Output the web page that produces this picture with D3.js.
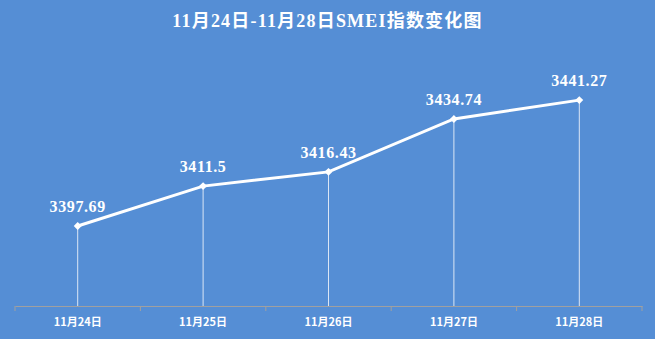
<!DOCTYPE html>
<html>
<head>
<meta charset="utf-8">
<script src="https://cdn.jsdelivr.net/npm/d3@7"></script>
<style>
  body { margin: 0; background: #558ed5; }
  svg { display: block; }
</style>
</head>
<body>
<script>
const width = 655;
const height = 339;

const title = "11月24日-11月28日SMEI指数变化图";
const dates = ["11月24日", "11月25日", "11月26日", "11月27日", "11月28日"];
const values = [3397.69, 3411.5, 3416.43, 3434.74, 3441.27];
const labels = ["3397.69", "3411.5", "3416.43", "3434.74", "3441.27"];

const margin = { top: 46, left: 15, bottom: 33, right: 13 };

const svg = d3.select("body").append("svg")
  .attr("width", width)
  .attr("height", height);

svg.append("rect")
  .attr("width", width)
  .attr("height", height)
  .attr("fill", "#558ed5");

svg.append("text")
  .attr("x", width / 2)
  .attr("y", 27)
  .attr("text-anchor", "middle")
  .style("font-family", "'Liberation Serif', 'Noto Sans CJK SC', serif")
  .style("font-size", "18px")
  .style("font-weight", "bold")
  .style("letter-spacing", "1.2px")
  .attr("fill", "#fff")
  .text(title);

const x = d3.scaleBand()
  .domain(dates)
  .range([margin.left, width - margin.right]);

const y = d3.scaleLinear()
  .domain([3370, 3460])
  .range([height - margin.bottom, margin.top]);

const base = height - margin.bottom;

// x axis
const xAxis = svg.append("g")
  .attr("transform", `translate(0, ${base})`)
  .call(d3.axisBottom(x).tickSize(0).tickPadding(12));
xAxis.select(".domain").attr("stroke", "#a0a0a0").attr("stroke-width", 1.2);
xAxis.selectAll("text")
  .attr("fill", "#fff")
  .style("font-family", "'Noto Sans CJK SC', sans-serif")
  .style("font-size", "11px")
  .style("font-weight", "bold");

// tick marks at band edges
const edges = dates.map((d) => x(d)).concat([x(dates[dates.length - 1]) + x.bandwidth()]);
svg.append("g").selectAll("line")
  .data(edges)
  .enter()
  .append("line")
  .attr("x1", (d) => d)
  .attr("x2", (d) => d)
  .attr("y1", base)
  .attr("y2", base + 5)
  .attr("stroke", "#a0a0a0");

const cx = (d, i) => x(dates[i]) + x.bandwidth() / 2;

// drop lines
svg.append("g").selectAll("line")
  .data(values)
  .enter()
  .append("line")
  .attr("x1", cx)
  .attr("x2", cx)
  .attr("y1", (d) => y(d))
  .attr("y2", base)
  .attr("stroke", "#dbe6f5")
  .attr("stroke-width", 1);

const line = d3.line()
  .x(cx)
  .y((d) => y(d));

svg.append("path")
  .datum(values)
  .attr("d", line)
  .attr("fill", "none")
  .attr("stroke", "#fff")
  .attr("stroke-width", 3);

svg.append("g").selectAll("path")
  .data(values)
  .enter()
  .append("path")
  .attr("d", d3.symbol(d3.symbolDiamond2, 40))
  .attr("transform", (d, i) => `translate(${cx(d, i)}, ${y(d)})`)
  .attr("fill", "#fff");

svg.append("g").selectAll("text")
  .data(values)
  .enter()
  .append("text")
  .attr("x", cx)
  .attr("y", (d) => y(d) - 14)
  .attr("text-anchor", "middle")
  .attr("fill", "#fff")
  .style("font-family", "'Liberation Serif', serif")
  .style("font-size", "16px")
  .style("font-weight", "bold")
  .style("letter-spacing", "0.6px")
  .text((d, i) => labels[i]);
</script>
</body>
</html>
